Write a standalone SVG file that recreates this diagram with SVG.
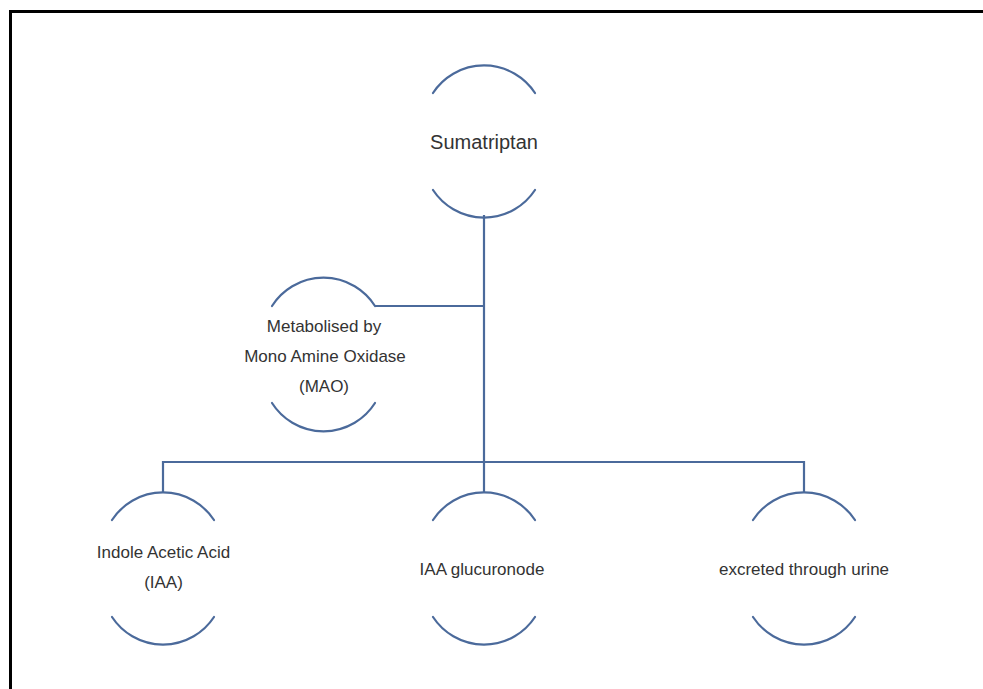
<svg xmlns="http://www.w3.org/2000/svg" width="983" height="689" viewBox="0 0 983 689">
<style>
.arc{fill:none;stroke:#4b6a9b;stroke-width:2.2;stroke-linecap:round}
.con{fill:none;stroke:#4b6a9b;stroke-width:2.2}
.t{font-family:"Liberation Sans",Arial,sans-serif;font-size:17px;fill:#333;text-anchor:middle}
</style>
<rect width="983" height="689" fill="#fff"/>
<path d="M10.5 689 V11.5 H983" fill="none" stroke="#000" stroke-width="3"/>
<g id="connectors">
<path class="con" d="M484 215 V493"/>
<path class="con" d="M375 306 H484"/>
<path class="con" d="M163 493 V462 H804 V493"/>
</g>
<g id="sumatriptan">
<path class="arc" d="M433 93 A61 61 0 0 1 535 93"/>
<path class="arc" d="M433 190 A61 61 0 0 0 535 190"/>
<text class="t" x="484" y="149" style="font-size:20px">Sumatriptan</text>
</g>
<g id="mao">
<path class="arc" d="M272 306 A61 61 0 0 1 375 306"/>
<path class="arc" d="M272 403 A61 61 0 0 0 375 403"/>
<text class="t" x="324" y="332">Metabolised by</text>
<text class="t" x="325" y="362">Mono Amine Oxidase</text>
<text class="t" x="324" y="392">(MAO)</text>
</g>
<g id="iaa">
<path class="arc" d="M112 520 A61 61 0 0 1 214 520"/>
<path class="arc" d="M112 617 A61 61 0 0 0 214 617"/>
<text class="t" x="163.5" y="558">Indole Acetic Acid</text>
<text class="t" x="163.5" y="588">(IAA)</text>
</g>
<g id="glucuronide">
<path class="arc" d="M433 520 A61 61 0 0 1 535 520"/>
<path class="arc" d="M433 617 A61 61 0 0 0 535 617"/>
<text class="t" x="482" y="575">IAA glucuronode</text>
</g>
<g id="urine">
<path class="arc" d="M753 520 A61 61 0 0 1 855 520"/>
<path class="arc" d="M753 617 A61 61 0 0 0 855 617"/>
<text class="t" x="804" y="575">excreted through urine</text>
</g>
</svg>
